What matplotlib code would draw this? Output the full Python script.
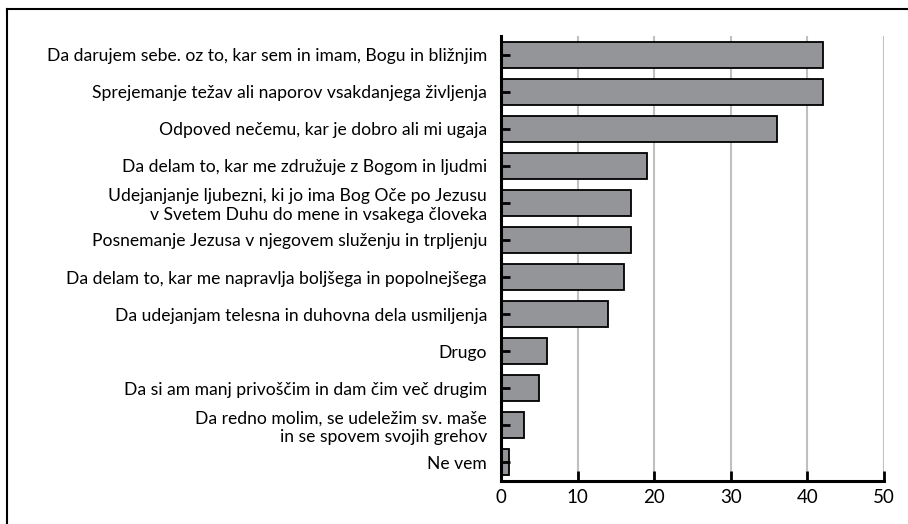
import matplotlib
matplotlib.use("Agg")
import matplotlib.pyplot as plt
from matplotlib.lines import Line2D

categories = [
    "Da darujem sebe. oz to, kar sem in imam, Bogu in bližnjim",
    "Sprejemanje težav ali naporov vsakdanjega življenja",
    "Odpoved nečemu, kar je dobro ali mi ugaja",
    "Da delam to, kar me združuje z Bogom in ljudmi",
    "Udejanjanje ljubezni, ki jo ima Bog Oče po Jezusu\nv Svetem Duhu do mene in vsakega človeka",
    "Posnemanje Jezusa v njegovem služenju in trpljenju",
    "Da delam to, kar me napravlja boljšega in popolnejšega",
    "Da udejanjam telesna in duhovna dela usmiljenja",
    "Drugo",
    "Da si am manj privoščim in dam čim več drugim",
    "Da redno molim, se udeležim sv. maše\nin se spovem svojih grehov",
    "Ne vem",
]
values = [42, 42, 36, 19, 17, 17, 16, 14, 6, 5, 3, 1]
xticks = [0, 10, 20, 30, 40, 50]

plt.rcParams['font.family'] = ['Lato', 'DejaVu Sans']

fig = plt.figure(figsize=(9.08, 5.24), dpi=100)
ax = fig.add_axes([501/908, 1-481/524, 383/908, 445/524])

ypos = list(range(len(categories)))
ax.set_ylim(len(categories)-0.5, -0.5)
ax.set_xlim(0, 50)
# gridlines behind bars
ax.vlines(xticks[1:], -0.5, len(categories)-0.5, colors='#c0c0c0', linewidth=1.5, zorder=1)
ax.barh(ypos, values, height=0.7, color='#939598', edgecolor='black', linewidth=1.3, zorder=2)
ax.set_axisbelow(False)
ax.set_xticks(xticks)
ax.set_xticklabels([str(t) for t in xticks], fontsize=13.5)
ax.set_yticks(ypos)
ax.set_yticklabels(categories, fontsize=12.6, multialignment='right')
ax.tick_params(axis='y', direction='in', length=6.5, width=2, pad=10, color='black')
ax.tick_params(axis='x', direction='in', length=7.5, width=2, pad=6)
for s in ['top', 'right']:
    ax.spines[s].set_visible(False)
ax.spines['left'].set_linewidth(2.2)
ax.spines['bottom'].set_linewidth(2.2)

# outer frame (left and top edges visible)
fig.add_artist(Line2D([7/908, 7/908], [0, 1-9/524], transform=fig.transFigure, color='black', linewidth=1.5))
fig.add_artist(Line2D([7/908, 1], [1-9/524, 1-9/524], transform=fig.transFigure, color='black', linewidth=1.5))

fig.savefig("out.png", dpi=100)
